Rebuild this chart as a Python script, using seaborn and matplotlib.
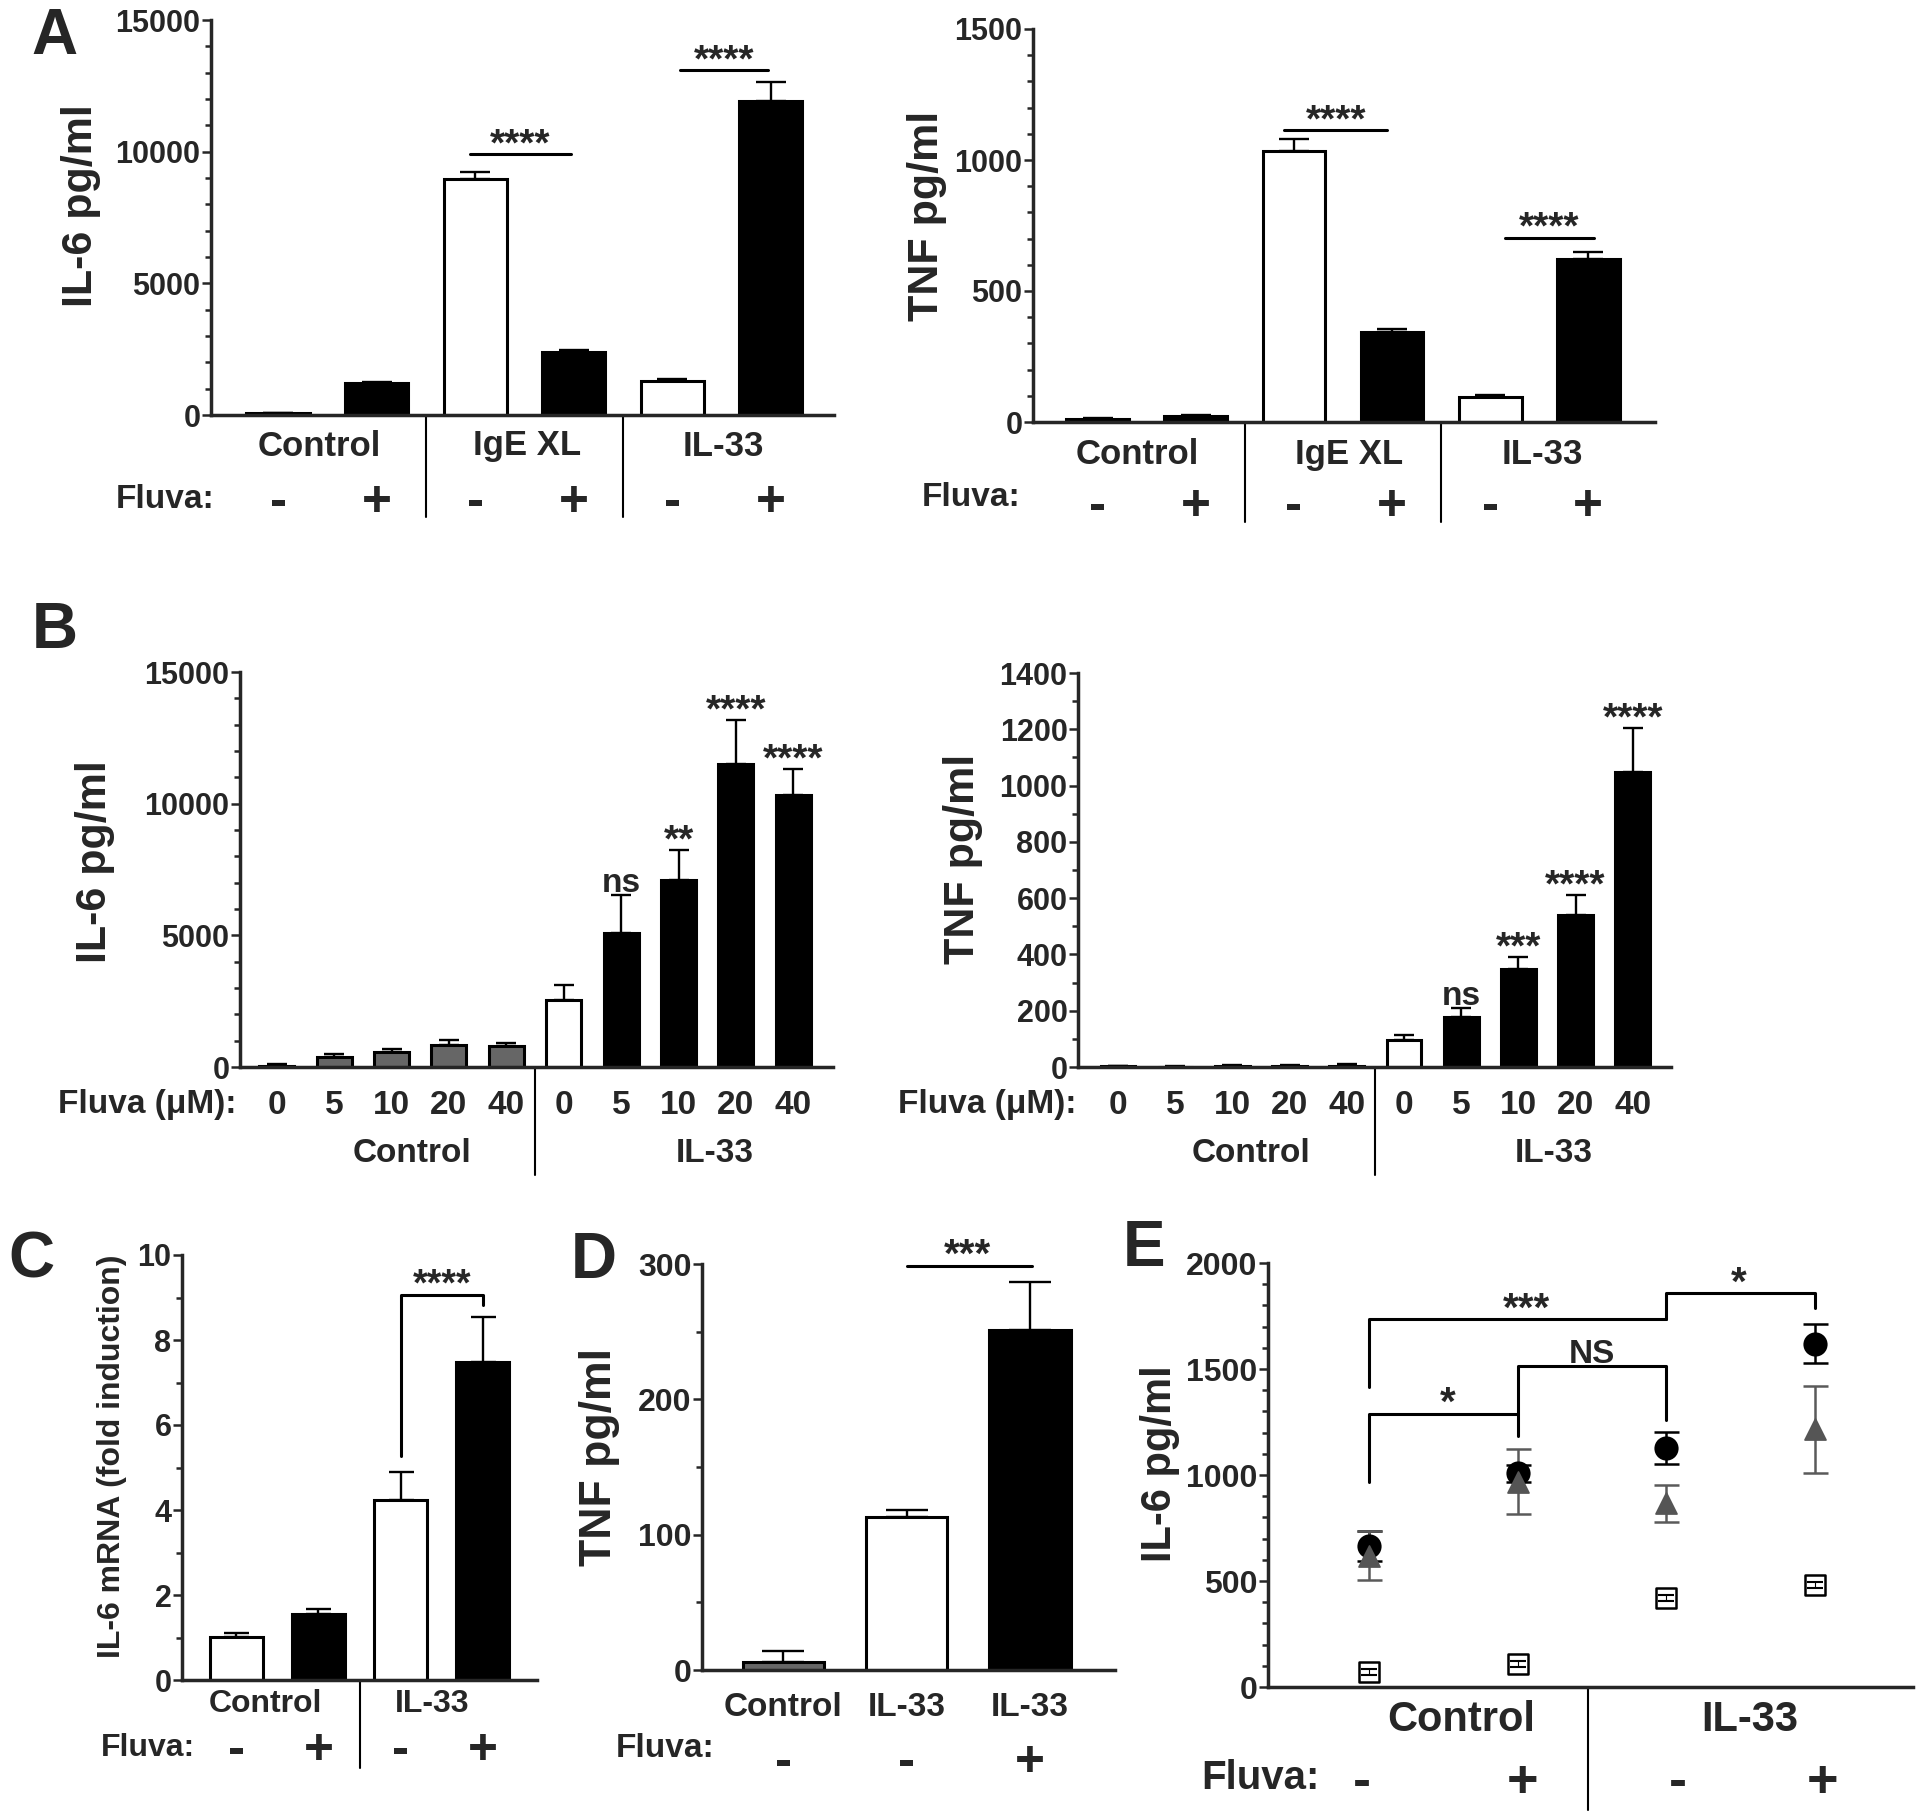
import numpy as np
import pandas as pd
import matplotlib
matplotlib.use('Agg')
import matplotlib.pyplot as plt
import matplotlib.transforms as mtransforms
from matplotlib.ticker import MultipleLocator
import seaborn as sns

sns.set_style("ticks")
plt.rcParams['font.family'] = ['Liberation Sans', 'DejaVu Sans']
plt.rcParams['font.weight'] = 'bold'

W, H = 1920, 1817

# ---------------- data ----------------
# Panel A
a_groups = ['Control', 'IgE XL', 'IL-33']
a_fluva = ['-', '+', '-', '+', '-', '+']
a_il6 = [60, 1225, 8960, 2395, 1300, 11910]
a_il6_err = [25, 40, 285, 75, 50, 735]
a_tnf = [13, 22, 1034, 345, 97, 622]
a_tnf_err = [4, 4, 45, 9, 6, 27]

# Panel B
b_doses = ['0', '5', '10', '20', '40']
b_groups = ['Control', 'IL-33']
b_il6_ctrl = [55, 380, 560, 845, 800]
b_il6_ctrl_err = [45, 125, 140, 170, 130]
b_il6_il33 = [2560, 5075, 7085, 11490, 10320]
b_il6_il33_err = [560, 1460, 1155, 1670, 1010]
b_tnf_ctrl = [2, 1, 5, 4, 4]
b_tnf_ctrl_err = [1, 1, 3, 3, 6]
b_tnf_il33 = [96, 179, 347, 540, 1049]
b_tnf_il33_err = [18, 30, 44, 72, 155]
b_il6_stars = ['', 'ns', '**', '****', '****']
b_tnf_stars = ['', 'ns', '***', '****', '****']

# Panel C
c_groups = ['Control', 'IL-33']
c_fluva = ['-', '+', '-', '+']
c_mrna = [1.02, 1.56, 4.24, 7.48]
c_mrna_err = [0.08, 0.10, 0.65, 1.06]

# Panel D
d_labels = ['Control', 'IL-33', 'IL-33']
d_fluva = ['-', '-', '+']
d_tnf = [6, 113, 251]
d_tnf_err = [8, 5, 36]

# Panel E
e_groups = ['Control', 'IL-33']
e_fluva = ['-', '+', '-', '+']
e_circle = [664, 1009, 1128, 1619]
e_circle_err = [70, 40, 75, 93]
e_triangle = [619, 968, 866, 1215]
e_triangle_err = [116, 153, 87, 205]
e_square = [72, 109, 421, 481]
e_square_err = [14, 14, 14, 14]

GRAY = '#666666'

fig = plt.figure(figsize=(W / 100, H / 100), dpi=100)


def rect(l, r, t, b):
    return [l / W, 1 - b / H, (r - l) / W, (b - t) / H]


def fx(x):
    return x / W


def fy(y):
    return 1 - y / H


def blend(ax):
    return mtransforms.blended_transform_factory(ax.transData, fig.transFigure)


def bars(ax, values, errs, colors, width, capsize):
    names = ['b%d' % i for i in range(len(values))]
    df = pd.DataFrame({'bar': names, 'value': values})
    sns.barplot(data=df, x='bar', y='value', hue='bar', palette=dict(zip(names, colors)),
                width=width, edgecolor='black', linewidth=2.2, errorbar=None,
                saturation=1, legend=False, ax=ax, zorder=2)
    ax.errorbar(range(len(values)), values, yerr=[np.zeros(len(values)), errs], fmt='none',
                ecolor='black', elinewidth=1.7, capsize=capsize, capthick=1.7, zorder=1)


def style(ax, xlim, ylim, major, minor, size=22):
    ax.set_xlim(*xlim)
    ax.set_ylim(*ylim)
    ax.yaxis.set_major_locator(MultipleLocator(major))
    ax.yaxis.set_minor_locator(MultipleLocator(minor))
    ax.set_xticks([])
    ax.set_xlabel('')
    ax.set_ylabel('')
    sns.despine(ax=ax)
    for s in ['left', 'bottom']:
        ax.spines[s].set_linewidth(2.5)
    ax.tick_params(axis='y', which='major', length=6.5, width=1.8, labelsize=size, pad=1)
    ax.tick_params(axis='y', which='minor', length=4, width=1.8)
    ax.patch.set_alpha(0)


def mark(ax, x, y, text, size=28):
    off = -1 * size / 28 if text.startswith('*') else 2
    ax.annotate(text, (x, y), xytext=(0, off), textcoords='offset points',
                ha='center', va='baseline', fontsize=size, annotation_clip=False)


def below(ax, xs, labels, ypx, size):
    t = blend(ax)
    for x, s in zip(xs, labels):
        ax.text(x, fy(ypx), s, transform=t, ha='center', va='center', fontsize=size)


def sep(ax, x, top, bottom):
    ax.plot([x, x], [fy(top), fy(bottom)], transform=blend(ax), color='black',
            lw=1.5, clip_on=False)


def ylab(x, y, text, size):
    fig.text(fx(x), fy(y), text, rotation=90, ha='center', va='center', fontsize=size)


def letter(x, y, text):
    fig.text(fx(x), fy(y), text, ha='center', va='center', fontsize=46)


# ---------------- A: IL-6 ----------------
ax = fig.add_axes(rect(211, 834, 20, 415))
bars(ax, a_il6, a_il6_err, ['white', 'black'] * 3, 0.64, 11)
style(ax, (-0.68, 5.64), (0, 15000), 5000, 1000)
for x0, x1, y in [(1.95, 2.97, 9900), (4.08, 4.97, 13090)]:
    ax.plot([x0, x1], [y, y], color='black', lw=2.2, clip_on=False)
    mark(ax, (x0 + x1) / 2, y, '****')
below(ax, [0.42, 2.53, 4.52], a_groups, 446, 25)
below(ax, range(6), a_fluva, 502, 37)
fig.text(fx(214), fy(500), 'Fluva:', ha='right', va='center', fontsize=24)
for x in [1.5, 3.5]:
    sep(ax, x, 415, 517)
ylab(81, 206, 'IL-6 pg/ml', 31)
letter(54, 37, 'A')

# ---------------- A: TNF ----------------
ax = fig.add_axes(rect(1033, 1655, 29, 422))
bars(ax, a_tnf, a_tnf_err, ['white', 'black'] * 3, 0.64, 11)
style(ax, (-0.66, 5.68), (0, 1500), 500, 100)
for x0, x1, y in [(1.90, 2.95, 1114), (4.15, 5.06, 704)]:
    ax.plot([x0, x1], [y, y], color='black', lw=2.2, clip_on=False)
    mark(ax, (x0 + x1) / 2, y, '****')
below(ax, [0.40, 2.56, 4.53], a_groups, 454, 25)
below(ax, range(6), a_fluva, 507, 37)
fig.text(fx(1020), fy(497), 'Fluva:', ha='right', va='center', fontsize=24)
for x in [1.5, 3.5]:
    sep(ax, x, 422, 522)
ylab(927, 216, 'TNF pg/ml', 31)

# ---------------- B: IL-6 ----------------
ax = fig.add_axes(rect(240, 833, 672, 1067))
bars(ax, b_il6_ctrl + b_il6_il33, b_il6_ctrl_err + b_il6_il33_err,
     [GRAY] * 5 + ['white'] + ['black'] * 4, 0.61, 7)
style(ax, (-0.64, 9.69), (0, 15000), 5000, 1000)
for i, s in enumerate(b_il6_stars):
    if s:
        mark(ax, 5 + i, b_il6_il33[i] + b_il6_il33_err[i], s, 28 if s != 'ns' else 24)
below(ax, range(10), b_doses * 2, 1105, 24)
below(ax, [2.35, 7.63], b_groups, 1153, 24)
fig.text(fx(236), fy(1105), 'Fluva (\u03bcM):', ha='right', va='center', fontsize=24)
sep(ax, 4.5, 1067, 1175)
ylab(95, 862, 'IL-6 pg/ml', 31)
letter(55, 631, 'B')

# ---------------- B: TNF ----------------
ax = fig.add_axes(rect(1078, 1671, 673, 1067))
bars(ax, b_tnf_ctrl + b_tnf_il33, b_tnf_ctrl_err + b_tnf_il33_err,
     [GRAY] * 5 + ['white'] + ['black'] * 4, 0.61, 7)
style(ax, (-0.70, 9.67), (0, 1400), 200, 100)
for i, s in enumerate(b_tnf_stars):
    if s:
        mark(ax, 5 + i, b_tnf_il33[i] + b_tnf_il33_err[i], s, 28 if s != 'ns' else 24)
below(ax, range(10), b_doses * 2, 1105, 24)
below(ax, [2.33, 7.62], b_groups, 1153, 24)
fig.text(fx(1076), fy(1105), 'Fluva (\u03bcM):', ha='right', va='center', fontsize=24)
sep(ax, 4.5, 1067, 1175)
ylab(963, 859, 'TNF pg/ml', 31)

# ---------------- C ----------------
ax = fig.add_axes(rect(182, 537, 1255, 1680))
bars(ax, c_mrna, c_mrna_err, ['white', 'black', 'white', 'black'], 0.65, 9)
style(ax, (-0.66, 3.66), (0, 10), 2, 1)
ax.plot([2, 2, 3, 3], [5.27, 9.07, 9.07, 8.83], color='black', lw=2.2, clip_on=False)
mark(ax, 2.5, 9.07, '****', 27)
below(ax, [0.36, 2.38], c_groups, 1704, 23)
below(ax, range(4), c_fluva, 1750, 37)
fig.text(fx(195), fy(1748), 'Fluva:', ha='right', va='center', fontsize=23)
sep(ax, 1.5, 1680, 1768)
ylab(112, 1456, 'IL-6 mRNA (fold induction)', 23)
letter(31, 1261, 'C')

# ---------------- D ----------------
ax = fig.add_axes(rect(702, 1115, 1264, 1670))
bars(ax, d_tnf, d_tnf_err, [GRAY, 'white', 'black'], 0.66, 15)
style(ax, (-0.66, 2.69), (0, 300), 100, 50, size=23)
ax.plot([1.0, 2.02], [298.8, 298.8], color='black', lw=2.2, clip_on=False)
mark(ax, 1.49, 298.8, '***', 29)
below(ax, range(3), d_labels, 1708, 24)
below(ax, range(3), d_fluva, 1762, 37)
fig.text(fx(715), fy(1748), 'Fluva:', ha='right', va='center', fontsize=24)
ylab(599, 1457, 'TNF pg/ml', 32)
letter(594, 1261, 'D')

# ---------------- E ----------------
ax = fig.add_axes(rect(1268, 1913, 1263, 1687))
xe = np.arange(4)
ax.errorbar(xe, e_circle, yerr=e_circle_err, fmt='none', ecolor='black',
            elinewidth=1.8, capsize=9, capthick=1.8, zorder=2)
ax.errorbar(xe, e_triangle, yerr=e_triangle_err, fmt='none', ecolor='#5a5a5a',
            elinewidth=1.8, capsize=9, capthick=1.8, zorder=2)
sns.scatterplot(x=xe, y=e_circle, marker='o', s=260, color='black', edgecolor='black',
                ax=ax, zorder=3)
sns.scatterplot(x=xe, y=e_triangle, marker='^', s=230, color='#555555', edgecolor='#555555',
                ax=ax, zorder=4)
sns.scatterplot(x=xe, y=e_square, marker='s', s=190, color='white', edgecolor='black',
                linewidth=1.8, ax=ax, zorder=4)
ax.errorbar(xe, e_square, yerr=e_square_err, fmt='none', ecolor='black',
            elinewidth=0.8, capsize=6, capthick=1.5, zorder=5)
style(ax, (-0.68, 3.66), (0, 2000), 500, 100, size=23)
for xs, ys in [([0, 0, 1, 1], [968, 1289, 1289, 1185]),
               ([1, 1, 2, 2], [1289, 1515, 1515, 1260]),
               ([0, 0, 2], [1417, 1736, 1736]),
               ([2, 2, 3, 3], [1736, 1858, 1858, 1789])]:
    ax.plot(xs, ys, color='black', lw=2.2, clip_on=False)
mark(ax, 0.53, 1289, '*', 29)
mark(ax, 1.5, 1515, 'NS', 24)
mark(ax, 1.06, 1736, '***', 29)
mark(ax, 2.49, 1858, '*', 29)
below(ax, [0.62, 2.56], e_groups, 1720, 30)
below(ax, [-0.05, 1.03, 2.08, 3.05], e_fluva, 1783, 39)
fig.text(fx(1320), fy(1778), 'Fluva:', ha='right', va='center', fontsize=29)
sep(ax, 1.47, 1687, 1810)
ylab(1160, 1464, 'IL-6 pg/ml', 30)
letter(1144, 1249, 'E')

fig.savefig('out.png', dpi=100)
